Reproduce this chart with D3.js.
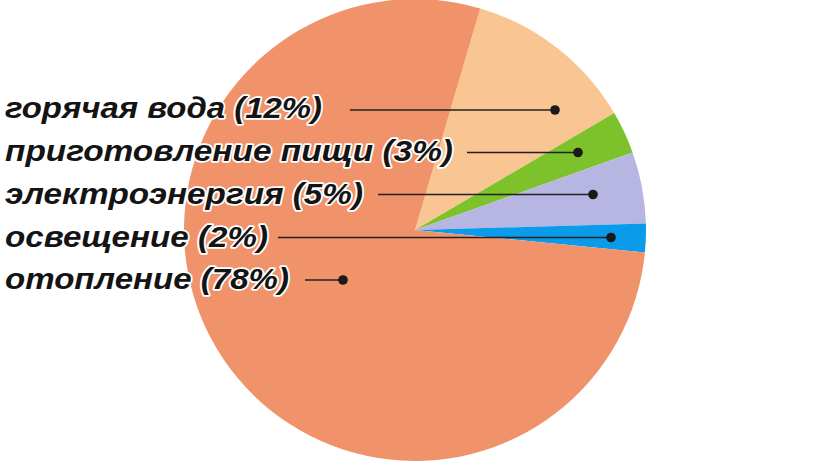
<!DOCTYPE html>
<html><head><meta charset="utf-8">
<script src="https://cdn.jsdelivr.net/npm/d3@7"></script>
<style>html,body{margin:0;padding:0;background:#fff;}svg{display:block;}</style>
</head><body>
<svg id="chart" width="828" height="461"></svg>
<script>
// Data
const categories = ["горячая вода", "приготовление пищи", "электроэнергия", "освещение", "отопление"];
const values = [12, 3, 5, 2, 78];
const labels = ["горячая вода (12%)", "приготовление пищи (3%)", "электроэнергия (5%)", "освещение (2%)", "отопление (78%)"];
const colors = ["#F9C592", "#7DC22A", "#B7B5E2", "#0A9BEA", "#F0926A"];

// Layout (annotation placement)
const W = 828, H = 461;
const cx = 415, cy = 230, R = 231;
const startDeg = 16.4;
const rowBaseline = [117.5, 161, 204, 247, 289];
const rowLineY = [110, 152.5, 194.5, 237.5, 280];
const textEnd = [322, 453, 363, 268, 289];
const lineStart = [350, 467, 378, 278, 305];
const dotX = [555, 578, 593, 611, 343];

const svg = d3.select("#chart");
const pie = d3.pie().sort(null).value(d => d)
  .startAngle(startDeg * Math.PI / 180)
  .endAngle(startDeg * Math.PI / 180 + 2 * Math.PI);
const arc = d3.arc().innerRadius(0).outerRadius(R);

const g = svg.append("g").attr("transform", `translate(${cx},${cy})`);
g.selectAll("path").data(pie(values)).join("path")
  .attr("d", arc)
  .attr("fill", (d, i) => colors[i]);

// leader lines and dots
const ann = svg.append("g");
labels.forEach((t, i) => {
  ann.append("line")
    .attr("x1", lineStart[i]).attr("x2", dotX[i])
    .attr("y1", rowLineY[i]).attr("y2", rowLineY[i])
    .attr("stroke", "#222").attr("stroke-width", 1.6);
  ann.append("circle")
    .attr("cx", dotX[i]).attr("cy", rowLineY[i]).attr("r", 4.8)
    .attr("fill", "#1a1a1a");
});

// labels
labels.forEach((t, i) => {
  svg.append("text")
    .attr("x", 5).attr("y", rowBaseline[i])
    .attr("font-family", "Liberation Sans, Arial, sans-serif")
    .attr("font-weight", "bold").attr("font-style", "italic")
    .attr("font-size", 30)
    .attr("fill", "#141414")
    .attr("stroke", "#fff").attr("stroke-width", 3.5)
    .attr("stroke-linejoin", "round")
    .attr("paint-order", "stroke")
    .attr("textLength", textEnd[i] - 5)
    .attr("lengthAdjust", "spacingAndGlyphs")
    .text(t);
});
</script>
</body></html>
